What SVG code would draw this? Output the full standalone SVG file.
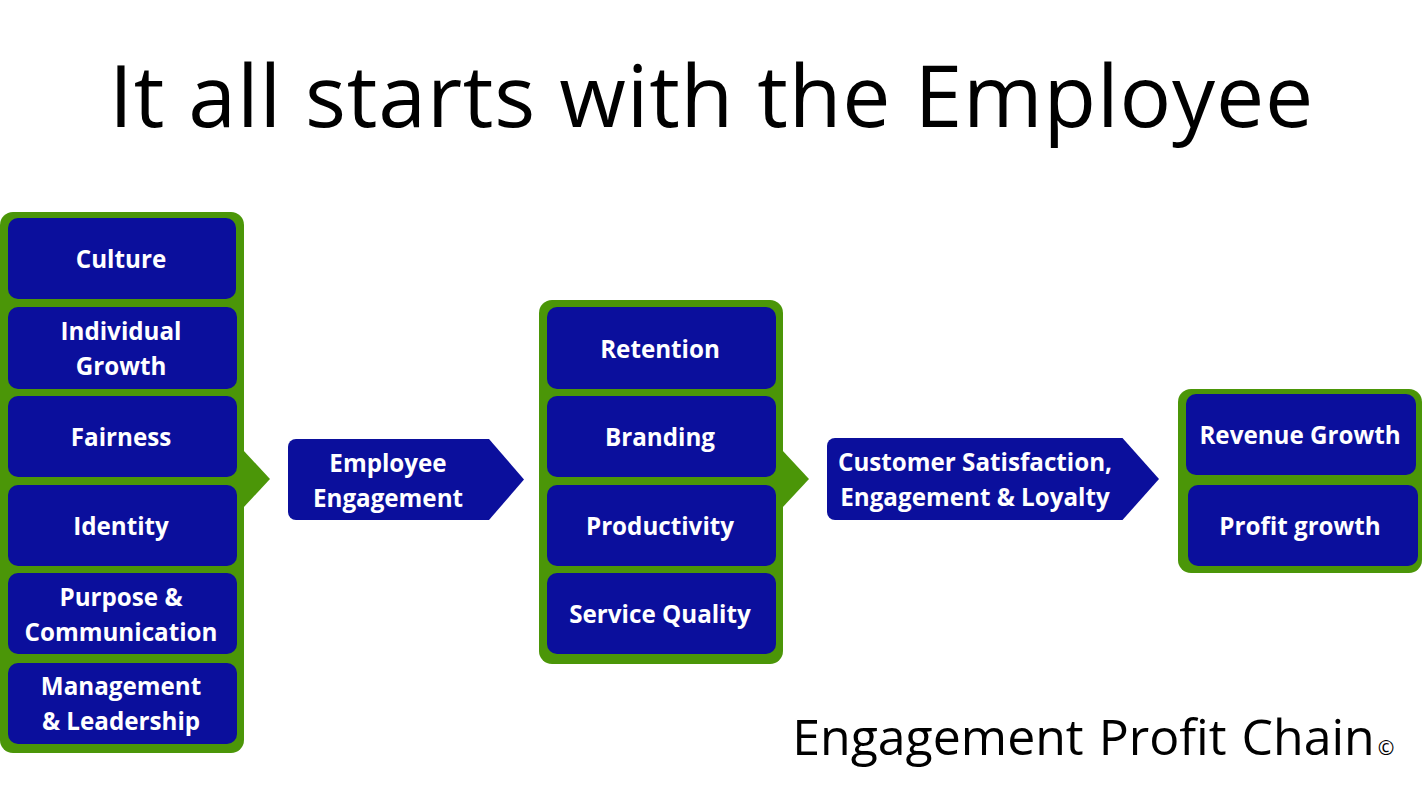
<svg xmlns="http://www.w3.org/2000/svg" width="1423" height="806" viewBox="0 0 1423 806">
<style>
.g{fill:#4b9608}
.b{fill:#0b0f9c}
text{font-family:"Open Sans","Noto Sans",sans-serif;text-anchor:middle}
.l{fill:#fff;font-size:24.2px;font-weight:700}
.t{fill:#000}
</style>
<rect width="1423" height="806" fill="#fff"/>
<g id="connectors">
<polygon class="g" points="243,450 270,479 243,508"/>
<polygon class="g" points="782,450 809,479 782,508"/>
</g>
<text class="t" x="711.500" y="127" style="font-size:86px;letter-spacing:.8px">It all starts with the Employee</text>
<g id="panel-1"><rect class="g" x="0" y="212" width="244" height="541" rx="13"/></g>
<g id="panel-2"><rect class="g" x="539" y="300" width="244" height="364" rx="13"/></g>
<g id="panel-3"><rect class="g" x="1178" y="389" width="244" height="184" rx="13"/></g>
<g id="culture"><rect class="b" x="8" y="218" width="228" height="81" rx="10"/><text class="l" x="121" y="267.500">Culture</text></g>
<g id="growth"><rect class="b" x="8" y="307" width="229" height="82" rx="10"/><text class="l" x="121" y="339.500">Individual</text><text class="l" x="121" y="374.500">Growth</text></g>
<g id="fairness"><rect class="b" x="8" y="396" width="229" height="81" rx="10"/><text class="l" x="121" y="445.500">Fairness</text></g>
<g id="identity"><rect class="b" x="8" y="485" width="229" height="81" rx="10"/><text class="l" x="121" y="534.500">Identity</text></g>
<g id="purpose"><rect class="b" x="8" y="573" width="229" height="81" rx="10"/><text class="l" x="121" y="605.500">Purpose &amp;</text><text class="l" x="121" y="640.500">Communication</text></g>
<g id="management"><rect class="b" x="8" y="663" width="229" height="81" rx="10"/><text class="l" x="121" y="694.500">Management</text><text class="l" x="121" y="729.500">&amp; Leadership</text></g>
<g id="engagement"><path class="b" d="M296,439H489L524,479.500L489,520H296a8,8 0 0 1-8-8V447a8,8 0 0 1 8-8Z"/><text class="l" x="388" y="471.500">Employee</text><text class="l" x="388" y="506.500">Engagement</text></g>
<g id="retention"><rect class="b" x="547" y="307" width="229" height="82" rx="10"/><text class="l" x="660" y="357.500">Retention</text></g>
<g id="branding"><rect class="b" x="547" y="396" width="229" height="81" rx="10"/><text class="l" x="660" y="445.500">Branding</text></g>
<g id="productivity"><rect class="b" x="547" y="485" width="229" height="81" rx="10"/><text class="l" x="660" y="534.500">Productivity</text></g>
<g id="service"><rect class="b" x="547" y="573" width="229" height="81" rx="10"/><text class="l" x="660" y="622.500">Service Quality</text></g>
<g id="customer"><path class="b" d="M835,438H1122.500L1159,479L1122.500,520H835a8,8 0 0 1-8-8V446a8,8 0 0 1 8-8Z"/><text class="l" x="975" y="470.500">Customer Satisfaction,</text><text class="l" x="975" y="505.500">Engagement &amp; Loyalty</text></g>
<g id="revenue"><rect class="b" x="1186" y="394" width="230" height="81" rx="10"/><text class="l" x="1300" y="443.500">Revenue Growth</text></g>
<g id="profit"><rect class="b" x="1188" y="485" width="230" height="81" rx="10"/><text class="l" x="1300" y="534.500">Profit growth</text></g>
<text class="t" x="1083.500" y="755" style="font-size:50px;word-spacing:2px">Engagement Profit Chain</text>
<text class="t" x="1386" y="755" style="font-size:20px">©</text>
</svg>
